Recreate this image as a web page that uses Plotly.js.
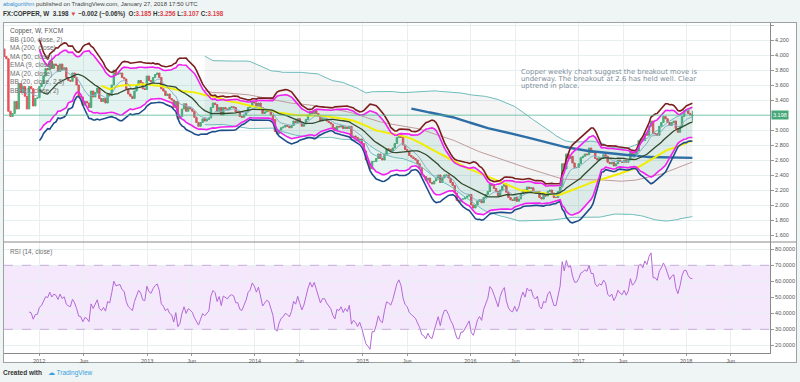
<!DOCTYPE html>
<html><head><meta charset="utf-8">
<script src="https://cdn.plot.ly/plotly-3.0.1.min.js"></script>
<style>
body{margin:0;width:800px;height:382px;background:#eef5f4;overflow:hidden;position:relative;font-family:"Liberation Sans",Arial,sans-serif}
#h1{position:absolute;left:3px;top:1px;font-size:6.0px;color:#444;white-space:nowrap}
#h1 b{color:#3b8fd6;font-weight:normal}
#h2{position:absolute;left:3px;top:10px;font-size:6.3px;color:#333;font-weight:bold;white-space:nowrap}
#h2 .r{color:#e0424c}
#frame{position:absolute;left:3px;top:22px;width:794px;height:341px;border:1px solid #9da3a3;box-sizing:border-box;background:#fff;overflow:visible}
#chart{position:absolute;left:0;top:0;width:792px;height:346px}
#ft{position:absolute;left:3px;top:369px;font-size:6.5px;color:#333;font-weight:bold;white-space:nowrap}
#ft span{color:#39a0e0;font-weight:normal;margin-left:4px}
</style></head><body>
<div id="h1"><b>abalgorithm</b> published on TradingView.com, January 27, 2018 17:50 UTC</div>
<div id="h2">FX:COPPER, W&nbsp; 3.198 <span class="r">▼</span> −0.002 (−0.06%)&nbsp; O:<span class="r">3.185</span> H:<span class="r">3.256</span> L:<span class="r">3.107</span> C:<span class="r">3.198</span></div>
<div id="frame"><div id="chart"></div></div>
<div id="ft">Created with <span>☁ TradingView</span></div>
<script>
// weekly closes, first bar = week of 2011-08-22
const firstWeek = '2011-08-22';
const closes2011 = [4.02,4.08,3.98,3.95,3.25,3.18,3.22,3.38,3.28,3.62,3.50,3.58,3.45,3.28,3.58,3.55,3.32,3.42,3.43];
const closes2012 = [3.58,3.62,3.72,3.82,3.80, 3.92,3.82,3.88,3.86, 3.78,3.88,3.80,3.83, 3.70,3.66,3.65,3.76,3.70, 3.60,3.45,3.44,3.33, 3.38,3.36,3.30,3.52, 3.44,3.50,3.56,3.42,3.38, 3.42,3.36,3.48,3.46, 3.60,3.80,3.74,3.75, 3.76,3.70,3.68,3.55,3.48, 3.45,3.42,3.52,3.60, 3.66,3.63,3.55,3.54,3.72];
const closes2013 = [3.66,3.64,3.70,3.74, 3.76,3.70,3.55,3.52, 3.46,3.48,3.42,3.40, 3.30,3.38,3.15,3.18,3.28, 3.35,3.25,3.30,3.28, 3.25,3.17,3.10,3.05, 3.10,3.15,3.12,3.14,3.16, 3.30,3.36,3.34,3.25, 3.30,3.20,3.30,3.28,3.27, 3.30,3.31,3.30,3.24, 3.24,3.18,3.17,3.20, 3.24,3.30,3.32,3.38,3.36];
const closes2014 = [3.32,3.36,3.30,3.22, 3.24,3.26,3.25,3.20, 3.14,2.98,2.95,3.00,3.03, 3.04,3.06,3.05,3.03, 3.06,3.12,3.10,3.15, 3.10,3.05,3.08,3.14,3.20, 3.25,3.22,3.26,3.22, 3.18,3.12,3.15,3.15, 3.12,3.10,3.08,3.03,3.00, 3.05,3.04,3.06,3.02, 3.04,3.02,3.05,2.90, 2.92,2.90,2.86,2.88,2.82];
const closes2015 = [2.72,2.60,2.55,2.48, 2.58,2.58,2.62,2.68, 2.62,2.60,2.68,2.75,2.74, 2.72,2.76,2.82,2.90, 2.94,2.90,2.80,2.74, 2.72,2.66,2.64,2.62,2.60, 2.55,2.50,2.40,2.38, 2.33,2.36,2.30,2.28,2.32, 2.36,2.40,2.30,2.36, 2.40,2.40,2.36,2.30, 2.26,2.16,2.06,2.04,2.08, 2.08,2.10,2.12,2.14];
const closes2016 = [2.00,1.96,2.00,2.05, 2.07,2.03,2.10,2.14,2.18, 2.28,2.26,2.22,2.18, 2.12,2.20,2.25,2.28, 2.17,2.10,2.07,2.06,2.10, 2.05,2.08,2.15,2.20, 2.16,2.24,2.22,2.23, 2.18,2.16,2.18,2.10,2.08, 2.13,2.12,2.18,2.20, 2.16,2.10,2.10,2.18,2.24, 2.55,2.48,2.68,2.62, 2.65,2.56,2.50,2.50];
const closes2017 = [2.55,2.63,2.65,2.68,2.67, 2.76,2.70,2.70,2.62, 2.60,2.63,2.62,2.67, 2.65,2.57,2.55,2.57, 2.52,2.55,2.60,2.58,2.57, 2.60,2.57,2.60,2.70, 2.66,2.68,2.72,2.86,2.88, 2.86,2.95,2.93,3.05, 3.12,2.95,2.95,2.93, 3.05,3.10,3.18,3.15,3.10, 3.06,3.10,3.12,3.02, 2.97,3.05,3.18,3.26];
const closes2018 = [3.26,3.22,3.200,3.198];
const lastBar = {open:3.185, high:3.256, low:3.107, close:3.198};

const dateTicks = ['2012-01-01','2012-06-01','2013-01-01','2013-06-01','2014-01-01','2014-06-01','2015-01-01','2015-06-01','2016-01-01','2016-06-01','2017-01-01','2017-06-01','2018-01-01','2018-06-01'];
const dateLabels = ['2012','Jun','2013','Jun','2014','Jun','2015','Jun','2016','Jun','2017','Jun','2018','Jun'];
const priceTicks = [1.6,1.8,2.0,2.2,2.4,2.6,2.8,3.0,3.4,3.6,3.8,4.0,4.2,4.4];
const rsiTicks = [20,30,40,50,60,70,80];
const legendLines = ['Copper, W, FXCM','BB (100, close, 2)','MA (200, close)','MA (50, close)','EMA (9, close)','MA (20, close)','BB (20, close, 2.5)','BB (20, close, 2)'];
const note = ['Copper weekly chart suggest the breakout move is','underway. The breakout at 2.6 has held well. Clear','uptrend in place.'];

const close = [].concat(closes2011,closes2012,closes2013,closes2014,closes2015,closes2016,closes2017,closes2018);
const N = close.length;
const t0 = Date.parse(firstWeek+'T00:00:00Z');
const dates = close.map((_,i)=> new Date(t0 + i*7*86400000).toISOString().slice(0,10));
const open = close.map((c,i)=> i===0 ? c : close[i-1]);
const high = close.map((c,i)=> Math.max(c,open[i]));
const low = close.map((c,i)=> Math.min(c,open[i]));
open[N-1]=lastBar.open; high[N-1]=lastBar.high; low[N-1]=lastBar.low;

function sma(a,n){return a.map((v,i)=>{if(i<n-1)return null;let s=0;for(let j=i-n+1;j<=i;j++)s+=a[j];return s/n;});}
function sd(a,n){const m=sma(a,n);return a.map((v,i)=>{if(i<n-1)return null;let s=0;for(let j=i-n+1;j<=i;j++)s+=(a[j]-m[i])**2;return Math.sqrt(s/n);});}
function ema(a,n){const k=2/(n+1);let e=null;return a.map((v,i)=>{e=(e===null)?v:(v*k+e*(1-k));return i<n-1?null:e;});}
function bb(a,n,m){const b=sma(a,n),s=sd(a,n);return {mid:b,up:b.map((v,i)=>v===null?null:v+m*s[i]),lo:b.map((v,i)=>v===null?null:v-m*s[i])};}
function rsi(a,n){const out=a.map(()=>null);let ag=0,al=0;for(let i=1;i<a.length;i++){const d=a[i]-a[i-1],g=Math.max(d,0),l=Math.max(-d,0);if(i<=n){ag+=g/n;al+=l/n;if(i===n)out[i]=100-100/(1+ag/al);}else{ag=(ag*(n-1)+g)/n;al=(al*(n-1)+l)/n;out[i]=al===0?100:100-100/(1+ag/al);}}return out;}

const bb100=bb(close,100,2), bb20=bb(close,20,2), bb25=bb(close,20,2.5);
const ma200=sma(close,200), ma50=sma(close,50), ma20=sma(close,20), ema9=ema(close,9);
const r = rsi(close,14);

function ln(y,color,w,name){return {x:dates,y:y,type:'scatter',mode:'lines',line:{color:color,width:w},hoverinfo:'skip',name:name,connectgaps:false};}
const traces = [
  {x:dates,open:open,high:high,low:low,close:close,type:'candlestick',
   increasing:{line:{color:'#4fb27c',width:1},fillcolor:'#4fb27c'},
   decreasing:{line:{color:'#e8525b',width:1},fillcolor:'#e8525b'},whiskerwidth:0,hoverinfo:'skip'},
  ln(bb100.lo,'rgba(0,0,0,0)',0),
  Object.assign(ln(bb100.up,'rgba(0,0,0,0)',0),{fill:'tonexty',fillcolor:'rgba(110,120,120,0.07)'}),
  ln(bb20.lo,'rgba(0,0,0,0)',0),
  Object.assign(ln(bb20.up,'rgba(0,0,0,0)',0),{fill:'tonexty',fillcolor:'rgba(0,140,120,0.10)'}),
  ln(bb100.up,'#6fbcbc',1), ln(bb100.lo,'#6fbcbc',1), ln(bb100.mid,'#bf9c9c',1),
  ln(ma200,'#2c6ea5',2.4), ln(ma50,'#f2ee00',2), ln(ema9,'#86b4c6',1), ln(ma20,'#2f4a2c',1.3),
  ln(bb25.up,'#7a1e1e',1.6), ln(bb25.lo,'#1d4d88',1.6),
  ln(bb20.up,'#f020f0',1.6), ln(bb20.lo,'#f020f0',1.6),
  Object.assign(ln(r,'#b469d6',1),{yaxis:'y2'})
];

const grid='#e7f0f0';
const layout = {
  width:792,height:346,margin:{l:0,r:26,t:0,b:16},boxgap:0.05,
  paper_bgcolor:'rgba(0,0,0,0)',plot_bgcolor:'#fff',showlegend:false,
  font:{family:'Liberation Sans, Arial, sans-serif',size:5.5,color:'#555'},
  xaxis:{type:'date',range:['2011-09-04','2018-10-12'],anchor:'y2',tickmode:'array',tickvals:dateTicks,ticktext:dateLabels,
    showgrid:true,gridcolor:grid,gridwidth:1,ticks:'outside',ticklen:2,tickcolor:'#999',showline:true,linecolor:'#8a8a8a',linewidth:1,
    rangeslider:{visible:false},tickfont:{size:5.5,color:'#555'},zeroline:false,fixedrange:true},
  yaxis:{domain:[0.33636,1],range:[1.5067,4.4267],side:'right',tickmode:'array',tickvals:priceTicks,tickformat:'.3f',
    showgrid:true,gridcolor:grid,ticks:'outside',ticklen:3,tickcolor:'#999',showline:true,linecolor:'#8a8a8a',linewidth:1,
    tickfont:{size:5.5,color:'#555'},zeroline:false,fixedrange:true},
  yaxis2:{domain:[0,0.33636],range:[15.19,84.56],side:'right',tickmode:'array',tickvals:rsiTicks,tickformat:'.4f',
    showgrid:true,gridcolor:grid,ticks:'outside',ticklen:3,tickcolor:'#999',showline:true,linecolor:'#8a8a8a',linewidth:1,
    tickfont:{size:5.5,color:'#555'},zeroline:false,fixedrange:true},
  shapes:[
    {type:'rect',xref:'paper',yref:'y2',x0:0,x1:1,y0:30,y1:70,fillcolor:'#f5e8fd',line:{width:0},layer:'below'},
    {type:'line',xref:'paper',yref:'y2',x0:0,x1:1,y0:70,y1:70,line:{color:'#c9add9',width:1,dash:'dash'}},
    {type:'line',xref:'paper',yref:'y2',x0:0,x1:1,y0:30,y1:30,line:{color:'#c9add9',width:1,dash:'dash'}},
    {type:'line',xref:'paper',yref:'y',x0:0,x1:1,y0:close[N-1],y1:close[N-1],line:{color:'rgba(90,185,150,0.55)',width:1.5}},
    {type:'line',xref:'paper',yref:'paper',x0:0,x1:1.034,y0:0.33636,y1:0.33636,line:{color:'#8a8a8a',width:1}}
  ],
  annotations:[]
};
legendLines.forEach((t,i)=>layout.annotations.push({text:t,xref:'paper',yref:'paper',x:0,y:1,xanchor:'left',yanchor:'middle',xshift:4,yshift:-(8+i*8.5),showarrow:false,font:{size:6.6,color:i===0?'#555':'#707070'}}));
note.forEach((t,i)=>layout.annotations.push({text:t,xref:'paper',yref:'paper',x:(519-4)/766,y:1,xanchor:'left',yanchor:'middle',yshift:-(49+i*7.2),showarrow:false,font:{family:'DejaVu Sans, sans-serif',size:6.9,color:'#7b8b98'}}));
layout.annotations.push({text:'RSI (14, close)',xref:'paper',yref:'paper',x:0,y:0.33636,xanchor:'left',yanchor:'middle',xshift:4,yshift:-10,showarrow:false,font:{size:6.4,color:'#707070'}});
layout.annotations.push({text:close[N-1].toFixed(3),xref:'paper',yref:'y',x:1,y:close[N-1],xanchor:'left',yanchor:'middle',xshift:1,showarrow:false,bgcolor:'#46a878',borderpad:1,font:{size:5.5,color:'#fff'}});

Plotly.newPlot('chart',traces,layout,{staticPlot:true,displayModeBar:false});
</script>
</body></html>
